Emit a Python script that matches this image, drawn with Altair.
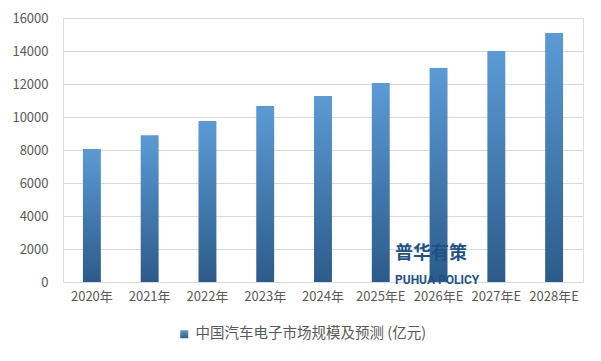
import altair as alt
import pandas as pd

years = ["2020年", "2021年", "2022年", "2023年", "2024年", "2025年E", "2026年E", "2027年E", "2028年E"]
values = [8060, 8900, 9760, 10670, 11270, 12060, 12970, 14000, 15090]
series = ["中国汽车电子市场规模及预测 (亿元)"] * len(years)
y_ticks = [0, 2000, 4000, 6000, 8000, 10000, 12000, 14000, 16000]
wm_cn = ["普华有策"]
wm_en = ["PUHUA POLICY"]

df = pd.DataFrame({"year": years, "value": values, "series": series})

font = "Noto Sans CJK SC"
grad = alt.LinearGradient(
    gradient="linear", x1=0, y1=0, x2=0, y2=1,
    stops=[alt.GradientStop(color="#5b9bd5", offset=0),
           alt.GradientStop(color="#2c5b8a", offset=1)],
)

bars = alt.Chart(df).mark_bar(color=grad).encode(
    x=alt.X("year:N", sort=years,
            scale=alt.Scale(paddingInner=0.69, paddingOuter=0.345),
            axis=alt.Axis(title=None, labelAngle=0, labelFont=font, labelFontSize=13,
                          labelColor="#595959", ticks=False, domainColor="#d9d9d9",
                          labelPadding=8)),
    y=alt.Y("value:Q", scale=alt.Scale(domain=[0, 16000], nice=False),
            axis=alt.Axis(title=None, values=y_ticks, format="d", labelFont=font, labelFontSize=13,
                          labelColor="#595959", ticks=False, domain=False,
                          gridColor="#d9d9d9", labelPadding=15)),
    opacity=alt.Opacity("series:N",
                        scale=alt.Scale(range=[1]),
                        legend=alt.Legend(title=None, orient="none", legendX=114, legendY=309,
                                          symbolType="square", symbolFillColor="#4a86c5",
                                          symbolStrokeWidth=0, symbolSize=64, labelLimit=0,
                                          labelFont=font, labelFontSize=14.5,
                                          labelColor="#595959", symbolOpacity=1)),
)

wm1 = alt.Chart(pd.DataFrame({"t": wm_cn})).mark_text(
    font=font, fontSize=18, fontWeight="bold", color="#1d5289", align="left", baseline="middle"
).encode(text="t:N", x=alt.value(332), y=alt.value(236))

wm2 = alt.Chart(pd.DataFrame({"t": wm_en})).mark_text(
    font="Roboto", fontSize=12, fontWeight="bold", color="#1d5289", align="left", baseline="middle"
).encode(text="t:N", x=alt.value(332), y=alt.value(262))

chart = alt.layer(bars, wm1, wm2).properties(
    width=520, height=264,
    autosize=alt.AutoSizeParams(type="none"),
    padding={"left": 55, "top": 10, "right": 10, "bottom": 71},
).configure_view(stroke=None).configure(background="white")

chart.save("out.html", embed_options={"renderer": "svg", "actions": False})
